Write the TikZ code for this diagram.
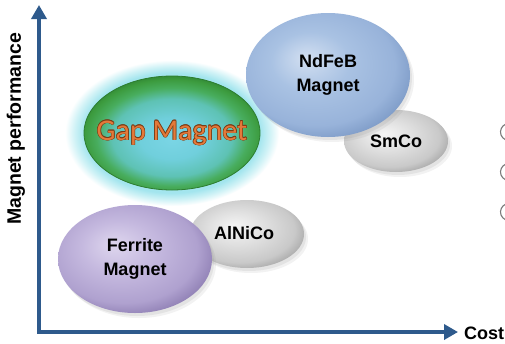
\documentclass[tikz,border=0pt]{standalone}
\usepackage{fontspec}
\usetikzlibrary{shapes.geometric,shadows,arrows.meta}
\newfontfamily\labfont{Liberation Sans}
\newfontfamily\gapfont{Carlito}
\definecolor{axisblue}{HTML}{2E5A8C}
\definecolor{ndHi}{HTML}{D2DFF1}
\definecolor{ndBase}{HTML}{A9C2E3}
\definecolor{ndMid}{HTML}{98B3DA}
\definecolor{ndEdge}{HTML}{7896C3}
\definecolor{grHi}{HTML}{F5F5F5}
\definecolor{grBase}{HTML}{E0E0E0}
\definecolor{grMid}{HTML}{C9C9C9}
\definecolor{grEdge}{HTML}{A0A0A0}
\definecolor{feHi}{HTML}{DED6EE}
\definecolor{feBase}{HTML}{C5B9DF}
\definecolor{feMid}{HTML}{AFA1CF}
\definecolor{feEdge}{HTML}{8878AE}
\definecolor{gpA}{HTML}{7AD5E5}
\definecolor{gpB}{HTML}{70CFDC}
\definecolor{gpC}{HTML}{5EC2B4}
\definecolor{gpD}{HTML}{48AD5E}
\definecolor{gpE}{HTML}{3C9B3E}
\definecolor{gpF}{HTML}{2C7D30}
\definecolor{glowA}{HTML}{A3E5EE}
\definecolor{glowB}{HTML}{CFF2F6}
\definecolor{gapfill}{HTML}{E4793A}
\definecolor{gapedge}{HTML}{7A3C14}
\definecolor{arcgrey}{HTML}{7A7A7A}
\pgfdeclareradialshading{ndfebsh}{\pgfpoint{-7bp}{7bp}}{color(0bp)=(ndHi); color(12bp)=(ndBase); color(24bp)=(ndMid); color(31bp)=(ndEdge); color(50bp)=(ndEdge)}
\pgfdeclareradialshading{greysh}{\pgfpoint{-6bp}{6bp}}{color(0bp)=(grHi); color(12bp)=(grBase); color(24bp)=(grMid); color(31bp)=(grEdge); color(50bp)=(grEdge)}
\pgfdeclareradialshading{ferritesh}{\pgfpoint{-7bp}{7bp}}{color(0bp)=(feHi); color(12bp)=(feBase); color(24bp)=(feMid); color(31bp)=(feEdge); color(50bp)=(feEdge)}
\pgfdeclareradialshading{gapsh}{\pgfpoint{0bp}{-3bp}}{color(0bp)=(gpA); color(9bp)=(gpB); color(17bp)=(gpC); color(21.5bp)=(gpD); color(25bp)=(gpE); color(28bp)=(gpF); color(50bp)=(gpF)}
\pgfdeclareradialshading{glowsh}{\pgfpoint{0bp}{0bp}}{color(0bp)=(glowA); color(20.5bp)=(glowA); color(22.8bp)=(glowB); color(25bp)=(white); color(50bp)=(white)}
\def\gapo{0.6pt}
\newcommand\outlinedtext[1]{\setbox0\hbox{#1}%
\rlap{\kern-\gapo\hbox{\textcolor{gapedge}{\copy0}}}%
\rlap{\kern\gapo\hbox{\textcolor{gapedge}{\copy0}}}%
\rlap{\raise\gapo\hbox{\textcolor{gapedge}{\copy0}}}%
\rlap{\lower\gapo\hbox{\textcolor{gapedge}{\copy0}}}%
\rlap{\kern-.45pt\raise.45pt\hbox{\textcolor{gapedge}{\copy0}}}%
\rlap{\kern.45pt\raise.45pt\hbox{\textcolor{gapedge}{\copy0}}}%
\rlap{\kern-.45pt\lower.45pt\hbox{\textcolor{gapedge}{\copy0}}}%
\rlap{\kern.45pt\lower.45pt\hbox{\textcolor{gapedge}{\copy0}}}%
\textcolor{gapfill}{\copy0}}
\tikzset{
  blob/.style={ellipse, inner sep=0pt, align=center,
    font=\labfont\bfseries\fontsize{18}{24}\selectfont, text=black},
  softshadow/.style={drop shadow={opacity=0.12, shadow xshift=2pt, shadow yshift=-3pt},
                     drop shadow={opacity=0.10, shadow xshift=4pt, shadow yshift=-5pt}},
  axisline/.style={draw=axisblue, line width=3.5pt, line join=miter},
  axislabel/.style={font=\labfont\bfseries\fontsize{18}{22}\selectfont, text=black, inner sep=0pt},
  cutarc/.style={draw=arcgrey, line width=1.1pt}
}
\begin{document}
\begin{tikzpicture}[x=1pt,y=-1pt]
\useasboundingbox[fill=white] (0,0) rectangle (505,343);
% axes
\coordinate (ytip) at (39,5);
\coordinate (origin) at (39,332);
\coordinate (xtip) at (458,332);
\draw[axisline, {Triangle[length=14pt,width=15pt]}-{Triangle[length=14pt,width=15pt]}] (ytip) -- (origin) -- (xtip);
\node[axislabel, rotate=90, font=\labfont\bfseries\fontsize{19.5}{22}\selectfont] (ylab) at (16,129) {Magnet performance};
\node[axislabel, anchor=west] (xlab) at (464,333) {Cost};
% glow + gap magnet
\node[ellipse, minimum width=214pt, minimum height=146pt, inner sep=0pt, shading=glowsh] (gapglow) at (172,133) {};
\node[blob, minimum width=176pt, minimum height=114pt, shading=gapsh, draw=gpF, line width=0.8pt] (gap) at (172,133) {};
\node[inner sep=0pt, font=\gapfont\fontsize{30}{36}\selectfont] (gaptext) at (gap.center) {\outlinedtext{Gap Magnet}};
% SmCo and NdFeB
\node[blob, softshadow, minimum width=104pt, minimum height=62pt, shading=greysh] (smco) at (396,141) {SmCo};
\node[blob, softshadow, minimum width=164pt, minimum height=124pt, shading=ndfebsh] (ndfeb) at (328,75) {NdFeB\\Magnet};
% AlNiCo and Ferrite
\node[blob, softshadow, minimum width=114pt, minimum height=68pt, shading=greysh] (alnico) at (247,234) {\raisebox{3pt}{\kern-6pt AlNiCo}};
\node[blob, softshadow, minimum width=154pt, minimum height=108pt, shading=ferritesh] (ferrite) at (135,259) {Ferrite\\Magnet};
% cut-off marks at right edge
\draw[cutarc] (509,132) ++(115:8.5) arc[start angle=115, end angle=245, radius=8.5];
\draw[cutarc] (509,172) ++(115:8.5) arc[start angle=115, end angle=245, radius=8.5];
\draw[cutarc] (509,212) ++(115:8.5) arc[start angle=115, end angle=245, radius=8.5];
\end{tikzpicture}
\end{document}
